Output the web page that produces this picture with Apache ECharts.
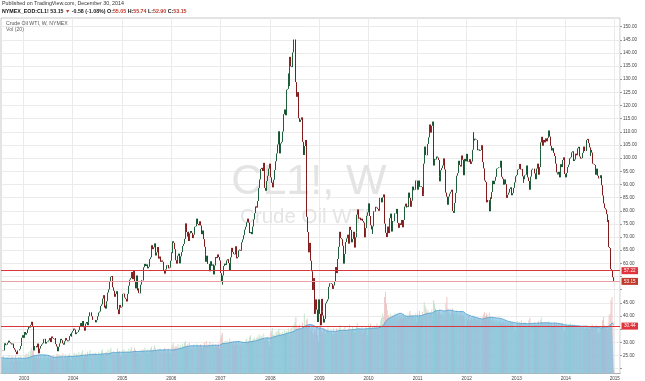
<!DOCTYPE html>
<html><head><meta charset="utf-8">
<script src="https://cdn.jsdelivr.net/npm/echarts/dist/echarts.min.js"></script>
<style>html,body{margin:0;padding:0;background:#fff}#c{width:645px;height:381px}</style>
</head><body><div id="c"></div>
<script>
// ---- DATA (weekly closes of CL1!, week starting Monday) ----
const firstWeek = '2002-07-22';
const futureWeeks = 6;
const c2002 = [26.9,26.8,26.9,29.3,29.6,28.9,29.1,29.8,30.6,30.0,29.6,29.2,29.5,27.8,27.2,26.4,25.5,26.9,26.9,27.4,28.6,29.9,31.7,32.7];
const c2003 = [31.7,33.9,32.9,33.5,34.9,36.1,35.6,36.6,37.8,36.0,26.9,28.6,28.6,28.1,29.5,26.3,25.8,27.6,28.6,29.2,29.6,31.2,31.3,29.5,30.1,30.3,30.7,31.6,30.1,32.2,31.6,31.3,31.1,31.6,29.3,28.4,26.6,28.3,29.6,31.3,30.8,29.6,29.1,30.4,31.6,30.8,30.4,30.7,32.4,33.2,32.2,33.7];
const c2004 = [34.3,35.2,34.8,33.1,33.7,33.9,34.6,36.2,37.3,36.2,38.1,35.7,34.4,37.1,37.7,36.5,37.4,39.9,41.4,41.4,39.9,38.5,38.5,38.5,37.6,38.4,39.9,41.3,41.7,43.8,44.4,46.6,47.9,43.2,43.9,42.8,45.6,48.9,50.1,53.3,54.9,55.2,50.9,49.6,47.3,48.4,49.4,42.5,40.7,44.2,43.2,43.5];
const c2005 = [45.4,48.4,48.5,47.0,46.5,45.5,48.4,51.5,53.8,54.4,56.7,54.0,57.3,53.3,50.5,55.4,49.7,50.4,48.7,48.6,51.9,53.6,53.5,58.5,59.8,59.0,59.6,58.1,58.7,61.6,62.3,66.9,65.4,66.1,67.6,64.1,63.0,64.2,66.2,61.8,62.6,60.6,61.1,60.6,57.5,56.1,57.7,59.3,59.4,58.1,58.4,61.0];
const c2006 = [64.2,63.9,68.4,67.8,65.4,61.2,59.9,62.9,63.7,60.0,62.7,64.3,66.6,67.4,69.3,75.2,71.9,70.2,72.0,68.5,71.4,72.3,71.6,69.6,70.9,73.9,74.1,77.0,75.0,74.5,76.0,74.4,71.1,72.5,69.2,66.3,63.3,60.6,62.9,59.8,59.8,57.0,60.8,59.1,59.6,55.8,59.2,62.4,62.0,63.4,62.4,61.1];
const c2007 = [56.3,52.9,52.0,55.4,59.0,59.9,59.4,61.1,61.6,60.1,57.1,62.3,65.9,64.3,63.6,63.4,66.5,61.9,62.4,64.9,65.2,65.1,64.8,68.0,69.1,70.7,72.8,73.9,75.6,77.0,75.5,71.5,71.9,71.1,74.0,76.7,79.1,81.6,81.7,81.2,83.7,88.6,91.9,95.9,96.3,95.1,98.2,88.7,87.6,91.3,93.3,96.0,97.9];
const c2008 = [92.7,90.6,90.7,88.9,91.8,95.5,98.8,101.8,105.2,110.2,101.8,105.6,106.2,110.1,116.7,118.5,116.3,126.0,126.3,132.2,127.4,138.5,134.9,134.6,140.2,145.1,145.1,128.9,123.3,125.1,115.2,113.8,114.6,115.5,106.2,101.2,104.6,106.9,93.9,77.7,71.9,64.2,67.8,61.0,57.0,49.9,54.4,40.8,46.3,42.4,37.7,46.3];
const c2009 = [40.8,36.5,46.5,41.7,40.2,37.5,38.9,44.8,45.5,46.3,51.1,52.4,52.5,52.2,50.3,51.6,53.2,58.6,56.3,61.7,66.3,68.4,72.0,69.6,69.2,66.7,59.9,63.6,68.1,69.5,70.9,67.5,73.9,72.7,68.0,69.3,72.0,66.0,69.9,71.8,78.5,80.5,77.0,77.4,76.4,77.0,76.1,75.5,69.9,73.4,78.1,79.4];
const c2010 = [82.8,78.0,74.5,72.9,71.2,74.1,79.8,79.7,81.5,81.2,80.7,80.0,84.9,84.9,83.2,85.1,86.2,75.1,71.6,70.0,74.0,71.5,73.8,77.2,78.9,72.1,76.1,76.0,79.0,78.9,80.7,75.4,73.5,75.2,74.6,76.5,73.7,76.5,81.6,82.7,81.3,81.7,81.4,86.9,84.9,81.5,83.8,89.2,87.8,88.0,91.5,91.4];
const c2011 = [88.0,91.5,89.1,89.3,89.0,85.6,86.2,97.9,104.4,101.2,101.1,105.4,107.9,112.8,109.7,112.3,113.9,97.2,99.7,99.5,100.6,100.2,99.3,93.0,91.2,95.4,96.2,97.2,99.9,95.7,86.9,85.4,82.3,85.4,86.5,87.2,88.0,79.9,79.2,83.0,86.8,87.4,93.3,94.3,99.0,97.4,96.8,101.0,99.4,93.5,99.7,98.8];
const c2012 = [101.6,98.7,98.5,99.6,97.8,98.7,103.2,109.8,106.7,107.4,107.1,106.9,103.0,103.3,102.8,103.1,104.9,98.5,96.1,91.5,90.9,83.2,84.1,84.0,79.8,85.0,84.5,87.1,91.4,90.1,91.4,92.9,96.0,96.2,96.5,96.4,99.0,92.9,92.2,89.9,91.9,90.1,86.3,84.9,86.1,86.9,88.3,88.9,85.9,86.7,88.7,90.8,93.1];
const c2013 = [93.6,95.6,95.9,97.8,95.7,95.9,93.1,90.7,92.0,93.5,93.7,97.2,92.7,91.3,88.0,93.0,95.6,96.0,96.0,94.2,92.0,96.0,97.9,93.7,96.6,103.2,106.0,108.1,104.7,106.9,106.0,107.5,106.4,107.7,110.5,108.2,104.7,102.9,103.8,102.0,100.8,97.9,94.6,94.2,93.8,94.8,92.7,97.7,96.6,99.3,100.3,94.0];
const c2014 = [92.7,94.4,96.6,97.5,99.9,100.3,102.2,102.6,102.6,98.9,99.5,101.7,101.1,103.7,104.3,100.6,99.8,100.0,102.0,104.4,102.7,102.7,106.9,107.3,105.7,104.1,100.8,103.1,102.1,97.9,97.7,97.4,93.7,96.0,93.3,92.3,92.4,93.5,89.7,85.8,82.8,81.0,80.5,78.7,75.8,76.5,66.2,65.8,57.8,57.1,54.73,53.15];
// weekly volume, millions of contracts
const v2002 = [0.95,0.80,1.05,0.90,0.70,0.95,1.00,0.85,1.10,0.75,0.90,1.05,0.95,0.70,0.90,1.10,0.85,0.75,1.00,0.80,1.05,0.95,0.70,0.85];
const v2003 = [0.95,1.10,1.20,0.90,1.15,1.30,1.05,1.40,1.55,1.35,1.60,1.10,0.95,1.05,0.90,1.10,0.85,1.00,1.10,0.80,0.95,1.05,1.15,0.85,1.00,0.95,1.10,0.90,1.05,0.85,1.00,1.10,0.80,0.95,1.05,1.20,0.90,1.15,1.00,1.10,0.95,1.20,0.85,1.05,1.15,0.90,1.00,1.10,1.20,0.95,0.80,1.05];
const v2004 = [1.10,1.25,0.95,1.15,1.20,1.05,1.30,1.00,1.15,1.25,1.40,0.95,1.10,1.20,1.05,1.30,1.00,1.25,1.40,1.10,0.95,1.15,1.20,1.05,1.25,1.00,1.15,1.30,1.05,1.20,1.35,1.45,1.20,1.05,1.25,1.30,1.15,1.45,1.25,1.40,1.55,1.30,1.10,1.35,1.20,1.05,1.30,1.50,1.25,1.35,1.05,1.00];
const v2005 = [1.40,1.30,1.45,1.10,1.25,1.35,1.20,1.50,1.30,1.45,1.60,1.25,1.35,1.55,1.40,1.30,1.20,1.25,1.35,1.10,1.40,1.30,1.45,1.30,1.55,1.25,1.35,1.45,1.20,1.40,1.50,1.60,1.35,1.45,1.70,1.55,1.40,1.30,1.45,1.35,1.50,1.25,1.40,1.30,1.45,1.55,1.35,1.25,1.40,1.50,1.30,1.20];
const v2006 = [1.55,1.70,1.85,1.50,1.60,1.65,1.55,1.75,1.45,1.60,1.70,1.55,1.80,1.65,1.85,1.95,1.60,1.75,1.60,1.85,1.55,1.50,1.65,1.55,1.75,1.50,1.60,1.80,1.70,1.55,1.65,1.75,1.60,1.50,1.70,1.85,1.70,1.95,1.60,1.75,1.65,1.90,1.60,1.70,1.80,1.65,1.55,1.75,1.70,1.60,1.80,1.45];
const v2007 = [2.10,2.30,2.45,1.90,1.85,1.95,1.80,2.00,1.75,1.90,2.10,1.85,1.95,1.80,1.95,1.70,1.85,1.90,1.75,1.95,1.85,1.70,1.80,1.95,1.75,1.90,1.85,2.00,2.10,1.90,1.95,2.20,2.30,1.95,2.00,2.05,2.15,1.90,2.10,2.20,2.10,2.35,2.25,2.15,2.30,2.10,2.40,2.00,2.15,2.05,2.20,1.90,1.70];
const v2008 = [2.40,2.55,2.75,2.30,2.35,2.20,2.50,2.40,2.55,2.70,2.45,2.30,2.40,2.50,2.35,2.60,2.40,2.55,2.45,2.70,2.30,2.60,2.75,2.50,2.85,2.95,3.10,3.40,2.90,2.75,2.85,2.95,2.60,2.70,3.05,2.85,3.60,2.90,3.20,3.30,2.80,2.95,2.60,2.55,2.70,2.45,2.35,2.60,2.50,2.80,2.30,1.90];
const v2009 = [2.70,2.90,2.55,2.40,2.60,2.75,2.35,2.50,2.65,2.80,2.55,2.45,2.60,2.50,2.35,2.70,2.40,2.55,2.70,2.45,2.60,2.75,2.90,2.60,2.55,2.45,2.70,2.85,2.50,2.60,2.55,2.70,2.95,2.50,2.60,2.80,2.65,2.45,2.70,2.85,3.05,2.75,2.60,2.70,2.55,2.80,2.45,2.65,2.60,2.85,2.70,2.30];
const v2010 = [2.95,2.80,3.00,2.70,2.85,2.65,2.90,2.75,2.80,3.00,2.70,2.85,2.95,3.20,3.35,3.60,3.40,4.60,4.90,4.20,3.80,3.50,3.40,3.60,3.30,3.50,3.25,3.45,3.60,3.30,3.40,3.55,3.20,3.45,3.35,3.50,3.30,3.60,3.40,3.45,3.30,3.55,3.40,3.60,3.75,3.50,3.40,3.55,3.45,3.30,3.60,3.10];
const v2011 = [3.60,3.45,3.75,3.50,3.40,3.70,3.55,4.30,4.10,3.90,3.65,3.80,3.55,3.70,3.60,3.85,3.45,4.40,4.20,3.90,3.75,3.60,3.70,3.85,3.55,3.65,3.50,3.60,3.75,3.40,4.20,4.60,3.90,3.70,3.60,3.55,3.75,3.90,3.60,3.70,3.55,3.80,3.60,3.45,3.65,3.50,3.70,3.40,3.45,3.55,3.30,2.90];
const v2012 = [3.30,3.20,3.45,3.15,3.25,3.35,3.20,3.50,3.30,3.40,3.25,3.15,3.35,3.20,3.30,3.10,3.25,3.40,3.55,3.70,3.45,3.60,3.50,3.35,3.65,3.40,3.20,3.35,3.10,3.25,3.15,3.05,3.20,3.00,3.15,3.10,3.25,3.05,3.00,3.15,3.00,3.20,2.95,3.10,3.05,2.95,3.15,3.00,3.05,3.10,2.90,2.70,2.60];
const v2013 = [3.05,3.15,2.95,3.10,3.00,3.20,2.90,3.05,2.95,3.10,3.00,2.85,2.95,3.20,3.35,3.05,2.90,3.00,2.85,3.10,2.95,2.90,3.05,3.15,2.95,3.20,3.35,3.10,3.00,2.95,3.05,2.90,3.10,2.95,3.15,3.00,2.90,3.05,2.85,2.95,3.10,2.90,3.00,2.85,3.00,2.95,2.80,2.90,3.05,2.85,2.60,2.50];
const v2014 = [2.85,3.00,2.80,2.95,2.90,3.05,2.85,2.95,2.80,2.95,2.75,2.90,2.85,2.75,2.90,2.70,2.85,2.80,2.70,2.85,2.65,2.75,2.90,2.70,2.80,2.65,2.85,2.75,2.95,2.80,2.70,2.85,2.90,2.75,2.39,2.55,2.45,2.65,2.80,3.20,3.40,2.90,2.70,2.85,2.60,3.00,3.50,3.60,4.40,4.60,3.10,0.244467];
// drawn horizontal levels on the price scale (value, label text)
const levelValues = [57.22, 36.16];
const levelTexts = ['57.22', '30.44'];
// header quote
const quoteSymbol = 'NYMEX_EOD:CL1!';
const quoteLast = '53.15', quoteChange = '-0.58 (-1.08%)';
const quoteO = '55.05', quoteH = '55.74', quoteL = '52.90', quoteC = '53.15';
const hiddenPriceTicks = [20, 35, 50, 55];
const maPeriod = 20;

// ---- BUILD ----
const closes = [].concat(c2002,c2003,c2004,c2005,c2006,c2007,c2008,c2009,c2010,c2011,c2012,c2013,c2014);
const vols = [].concat(v2002,v2003,v2004,v2005,v2006,v2007,v2008,v2009,v2010,v2011,v2012,v2013,v2014);
const cats = [];
{
  let t = Date.parse(firstWeek + 'T00:00:00Z');
  for (let i = 0; i < closes.length + futureWeeks; i++) { cats.push(new Date(t).toISOString().slice(0,10)); t += 7*864e5; }
}
const opens = closes.map((c,i) => i ? closes[i-1] : c);
const candles = closes.map((c,i) => { const o = opens[i]; return [o, c, Math.min(o,c), Math.max(o,c)]; });
const volMA = vols.map((v,i) => { const s = Math.max(0, i-maPeriod+1); let sum = 0; for (let k=s;k<=i;k++) sum += vols[k]; return +(sum/(i-s+1)).toFixed(4); });
const isYearStart = (i) => i > 0 && cats[i].slice(0,4) !== cats[i-1].slice(0,4);
const lastClose = closes[closes.length-1];
const lastVol = vols[vols.length-1];
const lastMA = volMA[volMA.length-1];

const UP = '#1f5e3b', DOWN = '#821c1c';
const FONT = 'Liberation Sans, Arial, sans-serif';
const G = {left:1, right:25};

const chart = echarts.init(document.getElementById('c'), null, {renderer:'canvas'});
chart.setOption({
  animation:false,
  backgroundColor:'#fff',
  textStyle:{fontFamily:FONT},
  title:[
    {left:2, top:1, padding:0, text:'Published on TradingView.com, December 30, 2014',
      textStyle:{fontSize:5.3, fontWeight:'normal', color:'#333', fontFamily:FONT}},
    {left:2, top:9, padding:0,
      text:'{b|'+quoteSymbol+'} {n|'+quoteLast+'} {r|\u25BC} {n|'+quoteChange+'} {b|O:}{r|'+quoteO+'} {b|H:}{r|'+quoteH+'} {b|L:}{r|'+quoteL+'} {b|C:}{r|'+quoteC+'}',
      textStyle:{fontSize:5.3, fontFamily:FONT, rich:{
        b:{fontSize:5.3, fontWeight:'bold', color:'#111', fontFamily:FONT},
        n:{fontSize:5.3, fontWeight:'bold', color:'#222', fontFamily:FONT},
        r:{fontSize:5.3, fontWeight:'bold', color:'#c0392b', fontFamily:FONT}}}},
    {left:6, top:21.5, padding:0, text:'Crude Oil WTI, W, NYMEX', textStyle:{fontSize:5.2, fontWeight:'normal', color:'#555', fontFamily:FONT}},
    {left:6, top:27.5, padding:0, text:'Vol (20)', textStyle:{fontSize:5.2, fontWeight:'normal', color:'#666', fontFamily:FONT}}
  ],
  graphic:[
    {type:'text', x:309, y:182, z:1, silent:true, style:{text:'CL1!, W', fontSize:43, fill:'#e4e4e4', align:'center', verticalAlign:'middle', fontFamily:FONT}},
    {type:'text', x:305, y:217, z:1, silent:true, style:{text:'Crude Oil WTI', fontSize:20.5, fill:'#e4e4e4', align:'center', verticalAlign:'middle', fontFamily:FONT}}
  ],
  grid:[
    {left:G.left, right:G.right, top:26.6, bottom:12.4},
    {left:G.left, right:G.right, top:18, bottom:6.5, show:true, borderColor:'#c8c8c8', borderWidth:1, backgroundColor:'transparent'}
  ],
  xAxis:[
    {type:'category', gridIndex:0, data:cats, boundaryGap:true, show:false},
    {type:'category', gridIndex:1, data:cats, boundaryGap:true,
      axisLine:{show:true, lineStyle:{color:'#aaa', width:1}},
      axisTick:{show:false},
      axisLabel:{interval:(i)=>isYearStart(i), formatter:(v)=>v.slice(0,4), fontSize:4.6, color:'#444', margin:2.5, fontFamily:FONT},
      splitLine:{show:true, interval:(i)=>isYearStart(i), lineStyle:{color:'#ebebeb', width:1}}}
  ],
  yAxis:[
    {type:'value', gridIndex:0, position:'right', min:20, max:150, interval:5,
      axisLine:{show:false},
      axisTick:{show:true, length:2, lineStyle:{color:'#999'}},
      axisLabel:{fontSize:4.6, color:'#444', margin:3, fontFamily:FONT,
        formatter:(v)=> hiddenPriceTicks.indexOf(v) >= 0 ? '' : v.toFixed(2)},
      splitLine:{show:true, lineStyle:{color:'#ebebeb', width:1}}},
    {type:'value', gridIndex:1, min:0, max:21.35, show:false, splitLine:{show:false}}
  ],
  series:[
    {type:'bar', name:'Vol', xAxisIndex:1, yAxisIndex:1, barWidth:'55%', z:2,
      data:vols.map((v,i)=>({value:v, itemStyle:{color: closes[i] >= opens[i] ? 'rgba(196,228,202,0.95)' : 'rgba(238,196,196,0.95)'}})),
      markLine:{silent:true, symbol:['none','none'], lineStyle:{opacity:0},
        label:{show:true, position:'end', distance:1.5, fontSize:4.6, color:'#fff', backgroundColor:'#7a1515', padding:[1,2], fontFamily:FONT,
          formatter:()=> (lastVol*1000).toFixed(3)+'K'},
        data:[{yAxis:lastVol}]}},
    {type:'line', name:'VolMA', xAxisIndex:1, yAxisIndex:1, data:volMA, symbol:'none', z:3,
      lineStyle:{color:'#4f9fd0', width:0.8}, areaStyle:{color:'rgba(104,182,224,0.84)'},
      markLine:{silent:true, symbol:['none','none'], lineStyle:{opacity:0},
        label:{show:true, position:'end', distance:1.5, fontSize:4.6, color:'#fff', backgroundColor:'#2f8fd6', padding:[1,2.5], fontFamily:FONT, offset:[0,7],
          formatter:()=> lastMA.toFixed(3)+'M'},
        data:[{yAxis:lastMA}]}},
    {type:'candlestick', name:'CL1!', xAxisIndex:0, yAxisIndex:0, data:candles, large:false, barWidth:0.8, z:5,
      itemStyle:{color:UP, color0:DOWN, borderColor:UP, borderColor0:DOWN, borderWidth:1},
      markLine:{silent:true, symbol:['none','none'], z:6,
        label:{show:true, position:'end', distance:1.5, fontSize:4.6, color:'#fff', padding:[1,2.5], fontFamily:FONT},
        data:[
          {yAxis:levelValues[0], lineStyle:{color:'#d9363e', width:1, type:'solid'}, label:{backgroundColor:'#e0333b', formatter:()=>levelTexts[0]}},
          {yAxis:lastClose, lineStyle:{color:'#eaa0a0', width:1, type:'solid'}, label:{backgroundColor:'#c0392b', formatter:()=>lastClose.toFixed(2)}},
          {yAxis:levelValues[1], lineStyle:{color:'#d9363e', width:1, type:'solid'}, label:{backgroundColor:'#e0333b', formatter:()=>levelTexts[1]}}
        ]}}
  ]
});
</script>
</body></html>
